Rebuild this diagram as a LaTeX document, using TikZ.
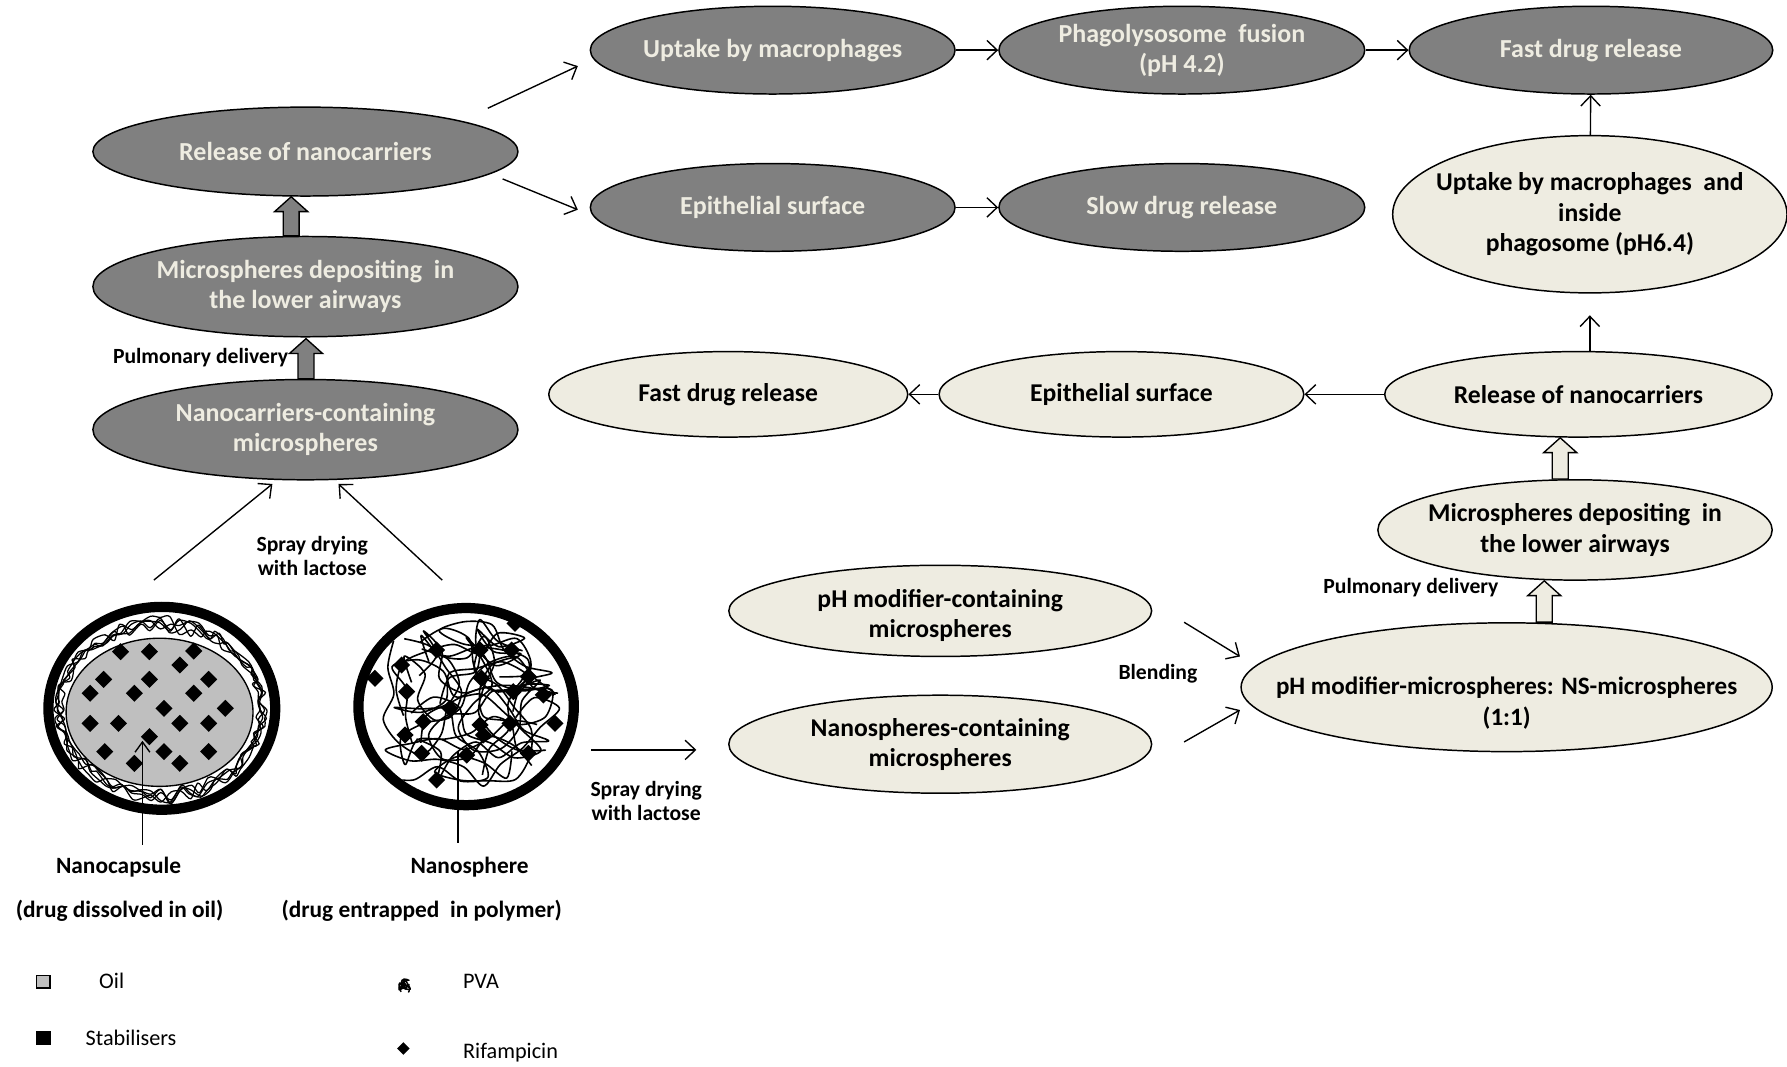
\documentclass[tikz,border=0pt]{standalone}
\usepackage{fontspec}
\setmainfont{Carlito}
\usetikzlibrary{shapes.geometric,arrows.meta,calc}
\definecolor{dkgray}{RGB}{128,128,128}
\definecolor{beige}{RGB}{238,236,225}
\definecolor{oilgray}{RGB}{191,191,191}
% upward block arrow: #1 base point, #2 tip point, #3 fill
\newcommand\blockarrow[3]{%
  \draw[line width=1.2pt, fill=#3, line join=miter] let \p1=#1, \p2=#2 in
    (\x2-7pt,\y1) -- (\x2-7pt,\y2-13pt) -- (\x2-14.5pt,\y2-13pt) -- (\x2,\y2)
    -- (\x2+14.5pt,\y2-13pt) -- (\x2+7pt,\y2-13pt) -- (\x2+7pt,\y1) -- cycle;}
% drug crystal
\newcommand\rdiam[3]{\fill (#1,#2) ++(-#3,0) -- ++(#3,-#3) -- ++(#3,#3) -- ++(-#3,#3) -- cycle;}
% polymer chains: random walks kept inside an ellipse of radii #4, #5
% #1 chains, #2 steps per chain, #3 step length
\newcommand\tangle[5]{%
  \foreach \k in {1,...,#1}{%
    \pgfmathsetmacro\sx{rand*0.8*#4}\global\let\wx\sx
    \pgfmathsetmacro\sy{rand*0.8*#5}\global\let\wy\sy
    \pgfmathsetmacro\sa{360*rnd}\global\let\wa\sa
    \xdef\pts{(\wx,\wy)}%
    \foreach \j in {1,...,#2}{%
      \pgfmathsetmacro\na{\wa+rand*75}%
      \pgfmathsetmacro\nx{\wx+#3*cos(\na)}%
      \pgfmathsetmacro\ny{\wy+#3*sin(\na)}%
      \pgfmathsetmacro\dd{veclen(\nx/#4,\ny/#5)}%
      \ifdim\dd pt>0.97pt
        \pgfmathsetmacro\na{atan2(-\wy,-\wx)+rand*50}%
        \pgfmathsetmacro\nx{\wx+#3*cos(\na)}%
        \pgfmathsetmacro\ny{\wy+#3*sin(\na)}%
      \fi
      \global\let\wx\nx \global\let\wy\ny \global\let\wa\na
      \xdef\pts{\pts (\wx,\wy)}%
    }%
    \edef\cmd{\noexpand\draw[strand] plot[smooth, tension=0.5] coordinates {\pts};}\cmd
  }}
\begin{document}
\begin{tikzpicture}[x=1pt,y=-1pt,
  bubble/.style={ellipse, draw=black, line width=1.3pt, inner sep=0pt},
  darkbub/.style={bubble, fill=dkgray},
  lightbub/.style={bubble, fill=beige},
  darktxt/.style={text=beige, font=\bfseries\fontsize{22.8}{26.5}\selectfont, align=center, inner sep=0pt},
  lighttxt/.style={text=black, font=\bfseries\fontsize{22.5}{26.5}\selectfont, align=center, inner sep=0pt},
  note/.style={font=\bfseries\fontsize{19}{21}\selectfont, align=center, inner sep=0pt},
  caption/.style={font=\bfseries\fontsize{20.5}{22}\selectfont, inner sep=0pt},
  keytxt/.style={font=\fontsize{19.5}{21}\selectfont, inner sep=0pt},
  link/.style={line width=1.2pt, -{Straight Barb[length=9pt,width=17pt,line width=1.2pt]}},
  pointer/.style={line width=1.2pt, -{Straight Barb[length=9pt,width=13pt,line width=1.2pt]}},
  strand/.style={line width=1.4pt, line join=round},
]
\useasboundingbox (0,0) rectangle (1568,936);
\pgfmathsetseed{4242}

% ---------- pathway with plain nanocarriers (grey) ----------
\node[darkbub, minimum width=320pt, minimum height=77pt] (upt) at (678,44) {};
\node[darktxt] (upt-t) at (upt) {Uptake by macrophages};
\node[darkbub, minimum width=321pt, minimum height=77pt] (phg) at (1037,44) {};
\node[darktxt] (phg-t) at (phg) {Phagolysosome~ fusion\\(pH 4.2)};
\node[darkbub, minimum width=319pt, minimum height=77pt] (fst) at (1396,44) {};
\node[darktxt] (fst-t) at (fst) {Fast drug release};
\node[darkbub, minimum width=373pt, minimum height=78pt] (rel) at (268,133) {};
\node[darktxt] (rel-t) at (rel) {Release of nanocarriers};
\node[darkbub, minimum width=320pt, minimum height=77pt] (epi) at (678,182) {};
\node[darktxt] (epi-t) at (epi) {Epithelial surface};
\node[darkbub, minimum width=321pt, minimum height=77pt] (slw) at (1037,182) {};
\node[darktxt] (slw-t) at (slw) {Slow drug release};
\node[darkbub, minimum width=373pt, minimum height=88pt] (dep) at (268,251.5) {};
\node[darktxt] (dep-t) at (dep) {Microspheres depositing~ in\\the lower airways};
\node[darkbub, minimum width=373pt, minimum height=88pt] (ncm) at (268,377) {};
\node[darktxt] (ncm-t) at (ncm) {Nanocarriers-containing\\microspheres};

% ---------- pathway with pH modifier (beige) ----------
\node[lightbub, minimum width=346pt, minimum height=138pt] (upm) at (1395,188) {};
\node[lighttxt] (upm-t) at (upm) {Uptake by macrophages~ and\\inside\\phagosome (pH6.4)};
\node[lightbub, minimum width=340pt, minimum height=75pt] (rlr) at (1385,346) {};
\node[lighttxt] (rlr-t) at (rlr) {Release of nanocarriers};
\node[lightbub, minimum width=320pt, minimum height=75pt] (epl) at (984,346) {};
\node[lighttxt] (epl-t) at (epl) {Epithelial surface};
\node[lightbub, minimum width=315pt, minimum height=75pt] (fsl) at (639,346) {};
\node[lighttxt] (fsl-t) at (fsl) {Fast drug release};
\node[lightbub, minimum width=346pt, minimum height=88pt] (dpr) at (1382,465) {};
\node[lighttxt] (dpr-t) at (dpr) {Microspheres depositing~ in\\the lower airways};
\node[lightbub, minimum width=466pt, minimum height=113pt] (mix) at (1322,603) {};
\node[lighttxt, font=\bfseries\fontsize{22}{26.5}\selectfont] (mix-t) at (1322,617) {pH modifier-microspheres: NS-microspheres\\(1:1)};
\node[lightbub, minimum width=371pt, minimum height=80pt] (phc) at (825,536) {};
\node[lighttxt] (phc-t) at (825,540) {pH modifier-containing\\microspheres};
\node[lightbub, minimum width=371pt, minimum height=86pt] (nsc) at (825,653) {};
\node[lighttxt] (nsc-t) at (nsc) {Nanospheres-containing\\microspheres};

% ---------- connectors ----------
\coordinate (r2u) at (428,95);   \coordinate (r2ue) at (507,58);
\coordinate (r2e) at (441,157);  \coordinate (r2ee) at (507,184);
\draw[link] (r2u) -- (r2ue);
\draw[link] (r2e) -- (r2ee);
\draw[link] (upt) -- (phg);
\draw[link] (phg) -- (fst);
\draw[link] (epi) -- (slw);
\draw[link] (upm) -- (fst);
\draw[link, shorten >=19pt] (upm.south |- rlr.north) -- (upm.south);
\draw[link] (rlr) -- (epl);
\draw[link] (epl) -- (fsl);
\coordinate (sd1) at (135,509);
\coordinate (sd2) at (388,509);
\draw[link] (sd1) -- ($(ncm.south)+(-29,3)$);
\draw[link] (sd2) -- ($(ncm.south)+(29,3)$);
\coordinate (sd3) at (519,658);  \coordinate (sd3e) at (611,658);
\draw[link] (sd3) -- (sd3e);
\coordinate (bl1) at (1039,546); \coordinate (bl1e) at (1088,576);
\coordinate (bl2) at (1039,651); \coordinate (bl2e) at (1088,623);
\draw[link] (bl1) -- (bl1e);
\draw[link] (bl2) -- (bl2e);

\blockarrow{($(dep.north)+(-12.5,0)$)}{($(rel.south)+(-12.5,0)$)}{dkgray}
\blockarrow{($(ncm.north)+(0.5,0)$)}{($(dep.south)+(0.5,1)$)}{dkgray}
\blockarrow{($(dpr.north)+(-16,0)$)}{($(rlr.south)+(-16,0)$)}{beige}
\blockarrow{($(mix.north)+(33,0)$)}{($(dpr.south)+(-27,0)$)}{beige}

% ---------- labels ----------
\node[note] (pd1) at (176,314) {Pulmonary delivery};
\node[note] (sdl1) at (274,488) {Spray drying\\with lactose};
\node[note] (sdl2) at (567,703) {Spray drying\\with lactose};
\node[note] (bld) at (1016,591) {Blending};
\node[note] (pd2) at (1238,516) {Pulmonary delivery};

% ---------- nanocapsule ----------
\draw[line width=9pt] (142,621.5) ellipse (99.5 and 89);
\draw[fill=oilgray, line width=1.2pt] (140,625) ellipse (82 and 65);
\begin{scope}[shift={(141,623)}]
  \foreach \k in {1,...,5}
    \draw[line width=1.1pt, line join=round] plot[smooth cycle, tension=0.5, samples=64, domain=0:354]
      ({\x}:{84+10*rnd} and {67+16*rnd});
\end{scope}
\foreach \px/\py in {105.8/571.8,131.1/571.8,170/571.2,157.8/583.5,90.9/596.1,131.1/596.1,
  183.1/596.1,79.1/608.3,117.9/608.3,170/608.3,143.9/621.5,197.7/621.5,79.1/634.7,
  104/634.7,157.8/634.7,183.1/634.7,131.1/646.4,91.9/659.5,143.9/659.5,183.1/659.5,
  117.9/669.8,157.8/669.8}
  {\rdiam{\px}{\py}{7.5}}
\coordinate (capb) at (125,741); \coordinate (capt) at (125,650);
\draw[pointer] (capb) -- (capt);
\node[caption] (capl) at (104,761) {Nanocapsule};
\node[caption] (capd) at (105,799) {(drug dissolved in oil)};

% ---------- nanosphere ----------
\draw[line width=9pt] (409,620) ellipse (94.5 and 86.5);
\begin{scope}[shift={(409,620)}]
  \clip (0,0) ellipse (90 and 82);
  \tangle{13}{16}{24}{88}{80}
\end{scope}
\foreach \px/\py in {383.1/570.3,421.2/570.3,448.9/570.3,451.9/546.9,352.4/583.5,329/595.2,
  422.6/595.2,463.6/593.7,356.8/606.9,450.4/606.9,476.7/609.8,394.8/621.5,371.4/633.2,
  421.2/636.1,447.5/634.7,487/634.7,355.4/644.9,424.1/644.9,370/661,409.5/662.5,
  463.6/661,383.1/684.4}
  {\rdiam{\px}{\py}{7.5}}
\coordinate (nspt) at (402,660); \coordinate (nspb) at (402,740);
\draw[line width=1.2pt] (nspt) -- (nspb);
\node[caption] (nsl) at (412,761) {Nanosphere};
\node[caption] (nsd) at (370,799) {(drug entrapped~ in polymer)};

% ---------- key ----------
\draw[fill=oilgray, line width=1.2pt] (32,856) rectangle (44,867);
\node[keytxt] (k1) at (98,861) {Oil};
\fill (32,905) rectangle (45,917);
\node[keytxt] (k2) at (115,911) {Stabilisers};
\begin{scope}[shift={(355,865)}, strand/.style={line width=1.3pt}]
  \clip (0,0) ellipse (6 and 8);
  \tangle{5}{6}{4}{6}{7.5}
\end{scope}
\node[keytxt] (k3) at (422,861) {PVA};
\rdiam{354}{920}{5.5}
\node[keytxt] (k4) at (448,924) {Rifampicin};
\end{tikzpicture}
\end{document}
